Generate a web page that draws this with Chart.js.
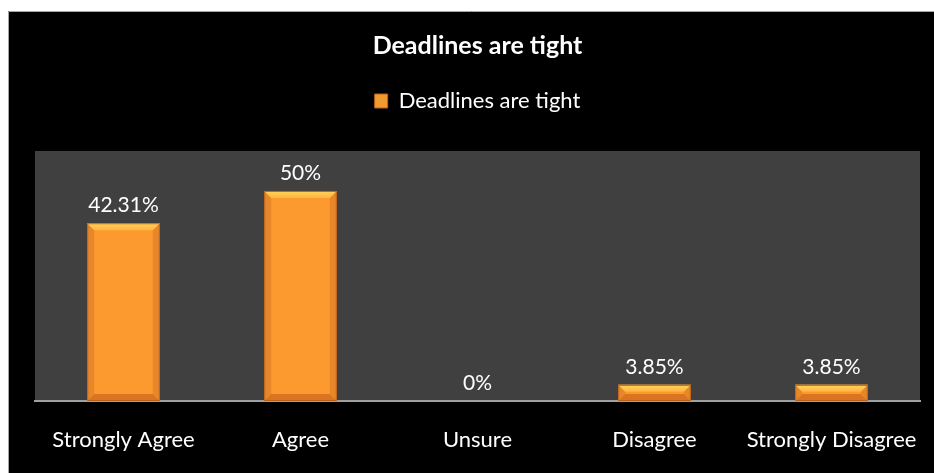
<!DOCTYPE html>
<html>
<head>
<meta charset="utf-8">
<title>Deadlines are tight</title>
<script src="https://cdn.jsdelivr.net/npm/chart.js@4.4.1/dist/chart.umd.min.js"></script>
<style>
  html, body { margin: 0; padding: 0; background: #ffffff; }
  #wrap { width: 934px; height: 473px; }
</style>
</head>
<body>
<div id="wrap"><canvas id="chart" width="934" height="473"></canvas></div>
<script>
// Survey answers and their shares (percent)
const categories = ['Strongly Agree', 'Agree', 'Unsure', 'Disagree', 'Strongly Disagree'];
const seriesName = 'Deadlines are tight';
const values = [42.31, 50, 0, 3.85, 3.85];
const chartTitle = 'Deadlines are tight';

const FONT = 'Lato, "Open Sans", sans-serif';

// Page frame: white page, black panel with a thin grey edge, dark grey plot area
const framePlugin = {
  id: 'frame',
  beforeDraw(chart) {
    const { ctx, width, height, chartArea } = chart;
    ctx.save();
    ctx.fillStyle = '#ffffff';
    ctx.fillRect(0, 0, width, height);
    ctx.fillStyle = '#000000';
    ctx.fillRect(8, 11, width - 8, height - 11);
    ctx.strokeStyle = '#a6a6a6';
    ctx.lineWidth = 1;
    ctx.beginPath();
    ctx.moveTo(8.5, height);
    ctx.lineTo(8.5, 11.5);
    ctx.lineTo(width, 11.5);
    ctx.stroke();
    ctx.fillStyle = '#404040';
    ctx.fillRect(chartArea.left, chartArea.top, chartArea.right - chartArea.left, chartArea.bottom - chartArea.top);
    ctx.restore();
  }
};

// Extra room under the legend before the plot area starts
const legendGapPlugin = {
  id: 'legendGap',
  beforeInit(chart) {
    const legend = chart.legend;
    if (!legend) return;
    const origFit = legend.fit;
    legend.fit = function () {
      origFit.call(this);
      this.height += 29;
    };
  }
};

// Bevelled look for each bar plus the value label above it
const barStylePlugin = {
  id: 'barStyle',
  afterDatasetsDraw(chart) {
    const { ctx } = chart;
    const meta = chart.getDatasetMeta(0);
    ctx.save();
    meta.data.forEach((bar, i) => {
      const p = bar.getProps(['x', 'y', 'base', 'width'], true);
      const L = p.x - p.width / 2, R = p.x + p.width / 2;
      const T = Math.min(p.y, p.base), B = Math.max(p.y, p.base);
      const h = B - T;
      if (h > 0.5) {
        const b = Math.min(7, h / 2);
        // side bevels
        ctx.fillStyle = '#e8862a';
        ctx.beginPath();
        ctx.moveTo(L, T); ctx.lineTo(L + b, T + b); ctx.lineTo(L + b, B - b); ctx.lineTo(L, B); ctx.closePath();
        ctx.fill();
        ctx.beginPath();
        ctx.moveTo(R, T); ctx.lineTo(R - b, T + b); ctx.lineTo(R - b, B - b); ctx.lineTo(R, B); ctx.closePath();
        ctx.fill();
        // bottom bevel
        ctx.fillStyle = '#da7420';
        ctx.beginPath();
        ctx.moveTo(L, B); ctx.lineTo(R, B); ctx.lineTo(R - b, B - b); ctx.lineTo(L + b, B - b); ctx.closePath();
        ctx.fill();
        // top bevel highlight
        const g = ctx.createLinearGradient(0, T, 0, T + b);
        g.addColorStop(0, '#ffd35e');
        g.addColorStop(1, '#ffb53e');
        ctx.fillStyle = g;
        ctx.beginPath();
        ctx.moveTo(L, T); ctx.lineTo(R, T); ctx.lineTo(R - b, T + b); ctx.lineTo(L + b, T + b); ctx.closePath();
        ctx.fill();
        // outline
        ctx.strokeStyle = '#b8621c';
        ctx.lineWidth = 1;
        ctx.strokeRect(L + 0.5, T + 0.5, R - L - 1, h - 1);
      }
      // value label
      const v = chart.data.datasets[0].data[i];
      ctx.fillStyle = '#ffffff';
      ctx.font = '21px ' + FONT;
      ctx.textAlign = 'center';
      ctx.textBaseline = 'alphabetic';
      ctx.fillText(v + '%', p.x, T - 11);
    });
    ctx.restore();
  }
};

new Chart(document.getElementById('chart'), {
  type: 'bar',
  data: {
    labels: categories,
    datasets: [{
      label: seriesName,
      data: values,
      backgroundColor: '#fd9a2f',
      borderWidth: 0,
      categoryPercentage: 1,
      barPercentage: 0.41
    }]
  },
  options: {
    responsive: false,
    devicePixelRatio: 1,
    animation: false,
    layout: { padding: { left: 35, right: 14, top: 11, bottom: 0 } },
    plugins: {
      title: {
        display: true,
        text: chartTitle,
        color: '#ffffff',
        font: { family: FONT, size: 25, weight: 'bold' },
        padding: { top: 20, bottom: 19 }
      },
      legend: {
        display: true,
        labels: {
          color: '#ffffff',
          font: { family: FONT, size: 22 },
          boxWidth: 13,
          boxHeight: 14,
          padding: 10,
          generateLabels(chart) {
            const items = Chart.defaults.plugins.legend.labels.generateLabels(chart);
            items.forEach(it => {
              it.fillStyle = '#f29a2e';
              it.strokeStyle = '#b8621c';
              it.lineWidth = 1;
            });
            return items;
          }
        }
      },
      tooltip: { enabled: false }
    },
    scales: {
      x: {
        grid: { display: false, drawTicks: false },
        border: { display: true, color: '#a0a0a0', width: 2 },
        ticks: { color: '#ffffff', font: { family: FONT, size: 22 }, padding: 26, maxRotation: 0 },
        afterFit(scale) {
          scale.height = 72;
          scale.paddingLeft = 0;
          scale.paddingRight = 0;
        }
      },
      y: {
        display: false,
        min: 0,
        max: 59.5
      }
    }
  },
  plugins: [framePlugin, legendGapPlugin, barStylePlugin]
});
</script>
</body>
</html>
